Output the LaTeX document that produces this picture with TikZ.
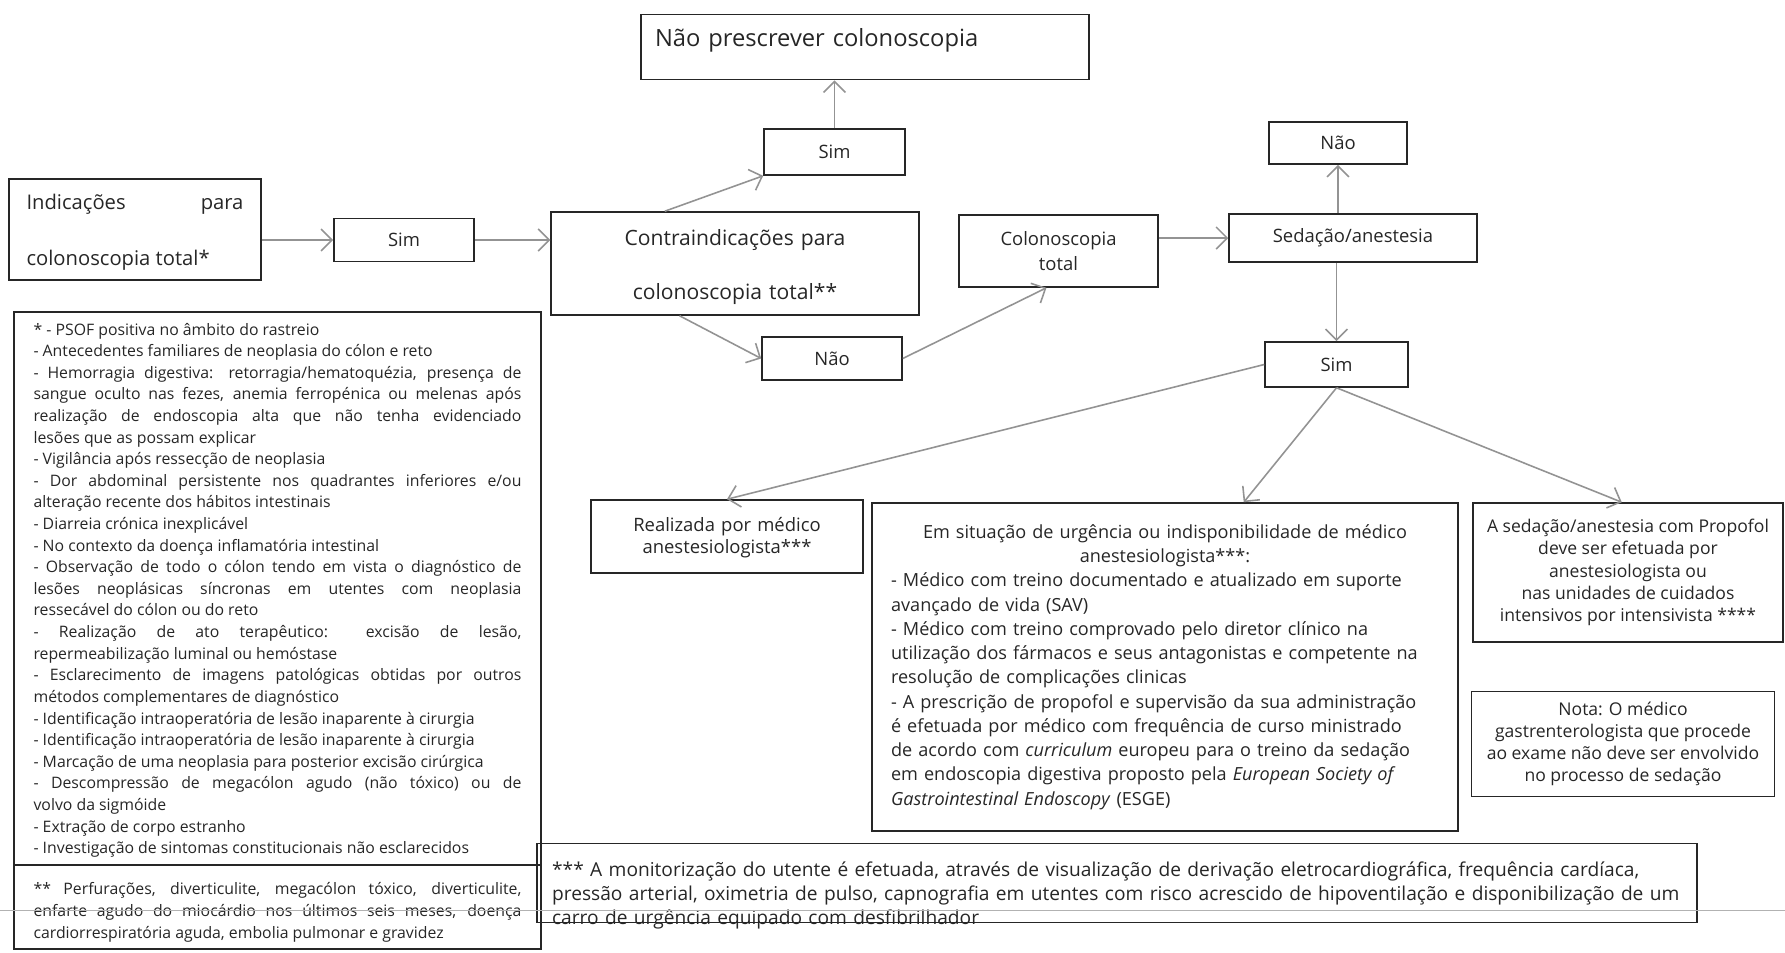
\documentclass[tikz,border=0pt]{standalone}
\usepackage{fontspec}
\setmainfont{Open Sans}
\usetikzlibrary{arrows.meta,calc}

\begin{document}
\begin{tikzpicture}
  [x=0.02cm,y=-0.02cm,
   every node/.style={rectangle,draw=black!85,line width=0.9pt,text=black!85,inner sep=0pt,align=center,font=\fontsize{10.5}{13}\selectfont},
   arr/.style={draw=gray!85,line width=0.9pt,-{Straight Barb[length=2.2mm,width=4.4mm]}}]
  \useasboundingbox (0,0) rectangle (1785,953);

  % flow boxes
  \node (ind) at (135,229.5) [minimum width=5.04cm,text width=4.34cm,align=justify,text height=0.61cm,text depth=1.41cm,font=\fontsize{11.5}{32}\selectfont] {Indicações para\linebreak colonoscopia total*};
  \node (sim1) at (404,240) [minimum width=2.8cm,minimum height=0.86cm] {Sim};
  \node (contra) at (735,263.5) [minimum width=7.36cm,text width=7cm,text height=0.66cm,text depth=1.4cm,font=\fontsize{12}{31}\selectfont] {Contraindicações para\\colonoscopia total**};
  \node (sim2) at (834.5,152) [minimum width=2.82cm,minimum height=0.92cm] {Sim};
  \node (naop) at (865,47) [minimum width=8.96cm,text width=8.4cm,align=left,text height=0.55cm,text depth=0.55cm,inner ysep=0.1cm,font=\fontsize{13.5}{16}\selectfont] {Não prescrever colonoscopia};
  \node (nao1) at (832,358.5) [minimum width=2.8cm,minimum height=0.86cm] {Não};
  \node (colon) at (1058.5,251) [minimum width=3.98cm,minimum height=1.44cm,font=\fontsize{10.5}{14}\selectfont] {Colonoscopia\\total};
  \node (sed) at (1353,238) [minimum width=4.96cm,minimum height=0.96cm] {Sedação/anestesia};
  \node (nao2) at (1338,143) [minimum width=2.76cm,minimum height=0.84cm] {Não};
  \node (sim3) at (1336.5,364.5) [minimum width=2.86cm,minimum height=0.9cm] {Sim};

  % result boxes
  \node (real) at (727,536.5) [minimum width=5.44cm,text width=5cm,text height=0.62cm,text depth=0.84cm] {Realizada por médico\\anestesiologista***};
  \node (emsit) at (1165,667) [minimum width=11.72cm,minimum height=6.56cm,text width=10.96cm,align=left,font=\fontsize{10.3}{13.8}\selectfont]
    {\centerline{Em situação de urgência ou indisponibilidade de médico}
     \centerline{anestesiologista***:}
     \makebox[10.36cm][s]{- Médico com treino documentado e atualizado em suporte}\\
     avançado de vida (SAV)\\
     - Médico com treino comprovado pelo diretor clínico na\\
     utilização dos fármacos e seus antagonistas e competente na\\
     resolução de complicações clinicas\\
     - A prescrição de propofol e supervisão da sua administração\\
     é efetuada por médico com frequência de curso ministrado\\
     de acordo com \emph{curriculum} europeu para o treino da sedação\\
     em endoscopia digestiva proposto pela \emph{European Society of}\\
     \emph{Gastrointestinal Endoscopy} (ESGE)};
  \node (prop) at (1628,572.5) [minimum width=6.2cm,minimum height=2.78cm,font=\fontsize{10}{12.6}\selectfont]
    {A sedação/anestesia com Propofol\\deve ser efetuada por\\anestesiologista ou\\nas unidades de cuidados\\intensivos por intensivista ****};
  \node (nota) at (1623,744) [minimum width=6.06cm,minimum height=2.1cm,font=\fontsize{10}{12.6}\selectfont]
    {Nota: O médico\\gastrenterologista que procede\\ao exame não deve ser envolvido\\no processo de sedação};

  % notes
  \node (list) at (277.5,588.5) [minimum width=10.54cm,text width=9.76cm,align=justify,text height=0.46cm,text depth=10.6cm,font=\fontsize{9}{12.3}\selectfont]
    {* - PSOF positiva no âmbito do rastreio\\
     - Antecedentes familiares de neoplasia do cólon e reto\\
     - Hemorragia digestiva: retorragia/hematoquézia, presença de\linebreak
     sangue oculto nas fezes, anemia ferropénica ou melenas após\linebreak
     realização de endoscopia alta que não tenha evidenciado\linebreak
     lesões que as possam explicar\\
     - Vigilância após ressecção de neoplasia\\
     - Dor abdominal persistente nos quadrantes inferiores e/ou\linebreak
     alteração recente dos hábitos intestinais\\
     - Diarreia crónica inexplicável\\
     - No contexto da doença inflamatória intestinal\\
     - Observação de todo o cólon tendo em vista o diagnóstico de\linebreak
     lesões neoplásicas síncronas em utentes com neoplasia\linebreak
     ressecável do cólon ou do reto\\
     - Realização de ato terapêutico: excisão de lesão,\linebreak
     repermeabilização luminal ou hemóstase\\
     - Esclarecimento de imagens patológicas obtidas por outros\linebreak
     métodos complementares de diagnóstico\\
     - Identificação intraoperatória de lesão inaparente à cirurgia\\
     - Identificação intraoperatória de lesão inaparente à cirurgia\\
     - Marcação de uma neoplasia para posterior excisão cirúrgica\\
     - Descompressão de megacólon agudo (não tóxico) ou de\linebreak
     volvo da sigmóide\\
     - Extração de corpo estranho\\
     - Investigação de sintomas constitucionais não esclarecidos};
  \node (star2) at (277.5,907) [minimum width=10.54cm,text width=9.76cm,align=justify,text height=0.58cm,text depth=1.1cm,font=\fontsize{9}{12.6}\selectfont]
    {** Perfurações, diverticulite, megacólon tóxico, diverticulite,\linebreak
     enfarte agudo do miocárdio nos últimos seis meses, doença\linebreak
     cardiorrespiratória aguda, embolia pulmonar e gravidez};
  \node (star3) at (1117,883) [minimum width=23.2cm,text width=22.6cm,align=left,text height=0.66cm,text depth=0.92cm,font=\fontsize{10.9}{13.6}\selectfont]
    {*** A monitorização do utente é efetuada, através de visualização de derivação eletrocardiográfica, frequência cardíaca,\\
     pressão arterial, oximetria de pulso, capnografia em utentes com risco acrescido de hipoventilação e disponibilização de um\\
     carro de urgência equipado com desfibrilhador};

  \draw [gray!60,line width=0.4pt] (0,910) -- (1785,910);

  % connector ends
  \coordinate (a) at (sim1.west -| ind.east);
  \coordinate (b) at (sim1.east -| contra.west);
  \coordinate (c) at ($(contra.north west)!0.31!(contra.north east)$);
  \coordinate (d) at (sim2.north |- naop.south);
  \coordinate (e) at ($(contra.south west)!0.35!(contra.south east)$);
  \coordinate (f) at ($(colon.south west)!0.44!(colon.south east)$);
  \coordinate (g) at (colon.east |- sed.west);
  \coordinate (h) at (sed.north -| nao2.south);
  \coordinate (i) at (sed.south -| sim3.north);
  \coordinate (j) at ($(emsit.north west)!0.634!(emsit.north east)$);
  \coordinate (k) at ($(prop.north west)!0.48!(prop.north east)$);

  \foreach \from/\to in {a/sim1.west,sim1.east/b,c/sim2.south west,sim2.north/d,e/nao1.west,nao1.east/f,g/sed.west,h/nao2.south,i/sim3.north,sim3.west/real.north,sim3.south/j,sim3.south/k}
    \draw [arr] (\from) -- (\to);

\end{tikzpicture}
\end{document}
